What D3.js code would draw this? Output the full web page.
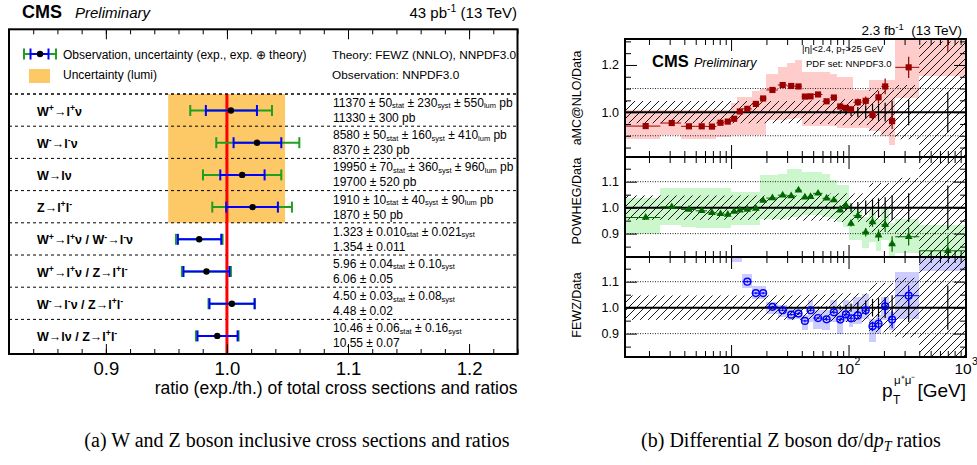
<!DOCTYPE html>
<html>
<head>
<meta charset="utf-8">
<script src="https://cdnjs.cloudflare.com/ajax/libs/d3/7.8.5/d3.min.js"></script>
<style>
  body { margin: 0; background: #fff; }
  text { font-family: "Liberation Sans", Arial, Helvetica, sans-serif; white-space: pre; }
</style>
</head>
<body>
<svg id="chart" width="977" height="465"></svg>
<script>
// ---------- (a) inclusive cross sections ----------
const channelLabels = [
  "W^{+}→l^{+}ν", "W^{-}→l^{-}ν", "W→lν", "Z→l^{+}l^{-}",
  "W^{+}→l^{+}ν / W^{-}→l^{-}ν", "W^{+}→l^{+}ν / Z→l^{+}l^{-}",
  "W^{-}→l^{-}ν / Z→l^{+}l^{-}", "W→lν / Z→l^{+}l^{-}"
];
const ratioVals = [1.0033, 1.0248, 1.0126, 1.0212, 0.9771, 0.9831, 1.0041, 0.9920];
const expLo = [0.9826, 1.0055, 0.9945, 0.9994, 0.9595, 0.9641, 0.9856, 0.9757];
const expHi = [1.0248, 1.0449, 1.0311, 1.0421, 0.9953, 1.0021, 1.0228, 1.0088];
const totLo = [0.9697, 0.9912, 0.9802, 0.9879, 0.9579, 0.9628, 0.9848, 0.9744];
const totHi = [1.0372, 1.0598, 1.0449, 1.0537, 0.9964, 1.0033, 1.0231, 1.0096];
const lumiBand = [0.9515, 1.048];
const lumiRows = 4;
const measText = [
  "11370 ± 50_{stat} ± 230_{syst} ± 550_{lum} pb",
  "8580 ± 50_{stat} ± 160_{syst} ± 410_{lum} pb",
  "19950 ± 70_{stat} ± 360_{syst} ± 960_{lum} pb",
  "1910 ± 10_{stat} ± 40_{syst} ± 90_{lum} pb",
  "1.323 ± 0.010_{stat} ± 0.021_{syst}",
  "5.96 ± 0.04_{stat} ± 0.10_{syst}",
  "4.50 ± 0.03_{stat} ± 0.08_{syst}",
  "10.46 ± 0.06_{stat} ± 0.16_{syst}"
];
const theoText = ["11330 ± 300 pb", "8370 ± 230 pb", "19700 ± 520 pb", "1870 ± 50 pb",
  "1.354 ± 0.011", "6.06 ± 0.05", "4.48 ± 0.02", "10.55 ± 0.07"];
const ratioTicks = [0.9, 1.0, 1.1, 1.2];

// ---------- (b) differential pT ratios ----------
const ptEdges = [1.25, 2.5, 3.75, 5, 6.25, 7.5, 8.75, 10, 11.25, 12.5, 15, 17.5, 20, 25, 30, 35,
  40, 45, 50, 60, 70, 80, 90, 100, 110, 130, 150, 170, 190, 220, 250, 400, 1000];
const amcVals = [0.941, 0.954, 0.940, 0.940, 0.939, 0.955, 0.960, 0.972, 1.003, 1.014, 1.035, 1.058,
  1.094, 1.115, 1.111, 1.109, 1.066, 1.067, 1.075, 1.046, 1.062, 1.024, 1.018, 1.012, 1.042, 1.048,
  0.988, 1.063, 1.109, 0.962, 1.190, 1.350];
const amcLo = [0.885, 0.905, 0.885, 0.885, 0.885, 0.895, 0.895, 0.905, 0.905, 0.905, 0.905, 0.905,
  0.968, 0.968, 0.972, 0.976, 0.940, 0.940, 0.940, 0.940, 0.940, 0.935, 0.935, 0.935, 0.935, 0.935,
  0.920, 0.920, 0.900, 0.860, 1.060, 1.155];
const amcHi = [1.011, 1.011, 1.011, 1.011, 1.011, 1.011, 1.011, 1.040, 1.065, 1.065, 1.090, 1.100,
  1.160, 1.190, 1.210, 1.220, 1.170, 1.170, 1.170, 1.170, 1.160, 1.150, 1.150, 1.150, 1.095, 1.095,
  1.137, 1.137, 1.137, 1.137, 1.310, 1.400];
const powhegVals = [0.962, 1.003, 0.993, 0.988, 0.980, 0.976, 0.974, 0.985, 0.990, 0.993, 0.997, 1.027,
  1.037, 1.048, 1.045, 1.067, 1.040, 1.042, 1.055, 1.036, 1.029, 0.990, 1.008, 0.939, 0.969, 0.905,
  0.945, 0.894, 0.934, 0.860, 0.888, 0.834];
const powhegLo = [0.900, 0.933, 0.926, 0.920, 0.920, 0.920, 0.920, 0.933, 0.933, 0.933, 0.933, 0.958,
  0.958, 0.958, 0.965, 0.965, 0.971, 0.971, 0.971, 0.965, 0.958, 0.946, 0.926, 0.875, 0.875, 0.843,
  0.869, 0.834, 0.875, 0.810, 0.824, 0.780];
const powhegHi = [1.036, 1.077, 1.074, 1.074, 1.074, 1.074, 1.074, 1.060, 1.060, 1.060, 1.060, 1.125,
  1.125, 1.131, 1.147, 1.147, 1.138, 1.138, 1.138, 1.131, 1.106, 1.087, 1.087, 1.016, 1.003, 0.965,
  0.990, 0.958, 1.000, 0.939, 0.958, 0.935];
const fewzVals = [null, null, null, null, null, null, null, 1.26, 1.24, 1.100, 1.056, 1.056, 1.003,
  0.990, 0.973, 0.977, 0.949, 0.990, 0.960, 0.955, 0.982, 0.954, 0.974, 0.959, 0.970, 0.990, 0.928,
  0.938, 1.005, 0.954, 1.046, null];
const fewzLo = [null, null, null, null, null, null, null, 1.175, 1.175, 1.077, 1.035, 1.035, 0.977,
  0.964, 0.951, 0.958, 0.913, 0.945, 0.919, 0.913, 0.945, 0.900, 0.945, 0.926, 0.938, 0.958, 0.868,
  0.900, 0.951, 0.913, 0.958, 1.140];
const fewzHi = [null, null, null, null, null, null, null, 1.350, 1.350, 1.128, 1.082, 1.082, 1.022,
  1.009, 0.996, 1.003, 0.971, 1.028, 0.990, 0.990, 1.028, 0.996, 1.028, 1.015, 1.041, 1.054, 0.958,
  0.970, 1.041, 0.983, 1.137, 1.400];
const dataErr = [0.002, 0.002, 0.002, 0.002, 0.002, 0.002, 0.002, 0.002, 0.002, 0.002, 0.002, 0.002,
  0.002, 0.002, 0.003, 0.003, 0.003, 0.003, 0.004, 0.005, 0.006, 0.008, 0.010, 0.016, 0.022, 0.028,
  0.034, 0.036, 0.040, 0.048, 0.055, 0.085];
const statErr = [0.004, 0.004, 0.004, 0.004, 0.004, 0.004, 0.004, 0.004, 0.004, 0.004, 0.004, 0.004,
  0.004, 0.004, 0.004, 0.005, 0.005, 0.005, 0.005, 0.006, 0.007, 0.008, 0.010, 0.012, 0.015, 0.018,
  0.020, 0.025, 0.030, 0.035, 0.038, 0.070];
const hatchErr = [0.047, 0.047, 0.047, 0.047, 0.047, 0.047, 0.047, 0.047, 0.047, 0.047, 0.047, 0.047,
  0.047, 0.047, 0.047, 0.047, 0.050, 0.050, 0.050, 0.050, 0.055, 0.055, 0.055, 0.055, 0.055, 0.055,
  0.095, 0.095, 0.095, 0.095, 0.115, 0.300];
const ptMinor = [2, 3, 4, 5, 6, 7, 8, 9, 20, 30, 40, 50, 60, 70, 80, 90, 200, 300, 400, 500, 600, 700, 800, 900];
const ptMajor = [10, 100, 1000];

const svg = d3.select("#chart");
const SERIF = "'Liberation Serif', 'Times New Roman', serif";

// text with ^{sup} and _{sub} pieces
function rich(sel, str, fs, scale, subOff) {
  scale = scale || 0.7;
  subOff = subOff === undefined ? 0.22 : subOff;
  const parts = str.split(/(\^\{[^}]*\}|_\{[^}]*\})/).filter(s => s.length);
  let cur = 0;
  parts.forEach(p => {
    let txt = p, off = 0, size = fs;
    if (p.startsWith("^{")) { txt = p.slice(2, -1); off = -0.38 * fs; size = scale * fs; }
    else if (p.startsWith("_{")) { txt = p.slice(2, -1); off = subOff * fs; size = scale * fs; }
    sel.append("tspan").attr("dy", off - cur).attr("font-size", size).text(txt);
    cur = off;
  });
  return sel;
}

function styleAxis(g, size) {
  g.select(".domain").remove();
  g.attr("font-family", null).attr("font-size", size);
  g.selectAll(".tick line").attr("stroke", "#000");
  g.selectAll(".tick text").attr("fill", "#000");
}

const defs = svg.append("defs");
const pat = defs.append("pattern").attr("id", "hatch")
  .attr("patternUnits", "userSpaceOnUse").attr("width", 8).attr("height", 8);
pat.append("path").attr("d", "M-2,2 L2,-2 M0,8 L8,0 M6,10 L10,6")
  .attr("stroke", "#000").attr("stroke-width", 0.9);

// ================= left figure =================
const left = { x0: 9, x1: 517.5, top: 29.3, bottom: 354 };
const xL = d3.scaleLinear().domain([0.82, 1.24]).range([left.x0, left.x1]);
const rowY = d3.scaleBand().domain(d3.range(channelLabels.length)).range([94, 351.6]);
const L = svg.append("g");

L.append("rect")
  .attr("x", xL(lumiBand[0])).attr("width", xL(lumiBand[1]) - xL(lumiBand[0]))
  .attr("y", rowY(0)).attr("height", rowY.bandwidth() * lumiRows)
  .attr("fill", "#fdc866");

rowY.domain().forEach(i => {
  L.append("line").attr("x1", left.x0).attr("x2", left.x1)
    .attr("y1", rowY(i)).attr("y2", rowY(i))
    .attr("stroke", "#000").attr("stroke-width", 1).attr("stroke-dasharray", "3,3");
});

L.append("line").attr("x1", xL(1)).attr("x2", xL(1))
  .attr("y1", rowY(0)).attr("y2", left.bottom)
  .attr("stroke", "#ff0000").attr("stroke-width", 3);

function errBar(g, x1, x2, y, color, cap) {
  g.append("line").attr("x1", x1).attr("x2", x2).attr("y1", y).attr("y2", y)
    .attr("stroke", color).attr("stroke-width", 2);
  [x1, x2].forEach(x => g.append("line").attr("x1", x).attr("x2", x)
    .attr("y1", y - cap).attr("y2", y + cap).attr("stroke", color).attr("stroke-width", 2));
}

ratioVals.forEach((v, i) => {
  const cy = rowY(i) + 16.5;
  errBar(L, xL(totLo[i]), xL(totHi[i]), cy, "#1f9e1f", 5.5);
  errBar(L, xL(expLo[i]), xL(expHi[i]), cy, "#0000ff", 5.5);
  L.append("circle").attr("cx", xL(v)).attr("cy", cy).attr("r", 3.2).attr("fill", "#000");

  rich(L.append("text").attr("x", 37).attr("y", cy + 5).attr("font-weight", "bold")
    .attr("font-size", 12.5), channelLabels[i], 12.5);
  rich(L.append("text").attr("x", 333).attr("y", rowY(i) + 13).attr("font-size", 12),
    measText[i], 12, 0.62, 0.12);
  L.append("text").attr("x", 333).attr("y", rowY(i) + 28).attr("font-size", 12).text(theoText[i]);
});

// legend
errBar(L, 24, 56, 54, "#1f9e1f", 5.5);
errBar(L, 30.5, 48.5, 54, "#0000ff", 5.5);
L.append("circle").attr("cx", 40).attr("cy", 54).attr("r", 3.2).attr("fill", "#000");
L.append("rect").attr("x", 29).attr("y", 69).attr("width", 21).attr("height", 14).attr("fill", "#fdc866");
L.append("text").attr("x", 63).attr("y", 58.5).attr("font-size", 12)
  .text("Observation, uncertainty (exp., exp. ⊕ theory)");
L.append("text").attr("x", 63).attr("y", 78.5).attr("font-size", 12).text("Uncertainty (lumi)");
L.append("text").attr("x", 332).attr("y", 58.5).attr("font-size", 11.8).text("Theory: FEWZ (NNLO), NNPDF3.0");
L.append("text").attr("x", 332).attr("y", 78.5).attr("font-size", 11.8).text("Observation: NNPDF3.0");
L.append("line").attr("x1", left.x0).attr("x2", left.x1).attr("y1", 94).attr("y2", 94)
  .attr("stroke", "#000").attr("stroke-dasharray", "3,3");

// axes of left figure
const minorL = d3.range(0.82, 1.2401, 0.02);
L.append("g").attr("transform", `translate(0,${left.bottom})`)
  .call(d3.axisBottom(xL).tickValues(minorL).tickSize(-5).tickFormat(""))
  .call(g => styleAxis(g, 10));
L.append("g").attr("transform", `translate(0,${left.bottom})`)
  .call(d3.axisBottom(xL).tickValues(ratioTicks).tickSize(-10).tickPadding(8).tickFormat(d3.format(".1f")))
  .call(g => styleAxis(g, 18.5));
L.append("g").attr("transform", `translate(0,${left.top})`)
  .call(d3.axisTop(xL).tickValues(minorL).tickSize(-5).tickFormat(""))
  .call(g => styleAxis(g, 10));
L.append("g").attr("transform", `translate(0,${left.top})`)
  .call(d3.axisTop(xL).tickValues(ratioTicks).tickSize(-10).tickFormat(""))
  .call(g => styleAxis(g, 10));
L.append("rect").attr("x", left.x0).attr("y", left.top)
  .attr("width", left.x1 - left.x0).attr("height", left.bottom - left.top)
  .attr("fill", "none").attr("stroke", "#000").attr("stroke-width", 2);

L.append("text").attr("x", left.x1).attr("y", 394).attr("text-anchor", "end").attr("font-size", 17.5)
  .text("ratio (exp./th.) of total cross sections and ratios");
L.append("text").attr("x", 22).attr("y", 17.5).attr("font-size", 18).attr("font-weight", "bold").text("CMS");
L.append("text").attr("x", 75).attr("y", 17.5).attr("font-size", 15).attr("font-style", "italic").text("Preliminary");
rich(L.append("text").attr("x", 517).attr("y", 17.5).attr("text-anchor", "end").attr("font-size", 15),
  "43 pb^{-1} (13 TeV)", 15);

// ================= right figure =================
const xR = d3.scaleLog().domain([1.25, 1000]).range([625, 966]);
const bins = d3.range(ptEdges.length - 1).map(i => ({
  i, lo: ptEdges[i], hi: ptEdges[i + 1], c: (ptEdges[i] + ptEdges[i + 1]) / 2
}));

const panels = [
  { top: 39, bottom: 157, dom: [0.81, 1.31], vals: amcVals, lo: amcLo, hi: amcHi,
    color: "#9b0000", band: "#ffcccc", marker: "square", title: "aMC@NLO/Data", titleY: 98,
    major: [1.0, 1.2], minor: [0.85, 0.9, 0.95, 1.05, 1.1, 1.15, 1.25, 1.3] },
  { top: 157, bottom: 257, dom: [0.81, 1.195], vals: powhegVals, lo: powhegLo, hi: powhegHi,
    color: "#006600", band: "#ccf7cc", marker: "triangle", title: "POWHEG/Data", titleY: 201,
    major: [0.9, 1.0, 1.1], minor: [0.85, 0.95, 1.05, 1.15] },
  { top: 257, bottom: 357, dom: [0.81, 1.195], vals: fewzVals, lo: fewzLo, hi: fewzHi,
    color: "#0000ff", band: "#ccccff", marker: "circle", title: "FEWZ/Data", titleY: 305,
    major: [0.9, 1.0, 1.1], minor: [0.85, 0.95, 1.05, 1.15] }
];

panels.forEach((p, k) => {
  const y = d3.scaleLinear().domain(p.dom).range([p.bottom, p.top]);
  const G = svg.append("g");
  defs.append("clipPath").attr("id", "clip" + k).append("rect")
    .attr("x", 625).attr("y", p.top).attr("width", 341).attr("height", p.bottom - p.top);
  const C = G.append("g").attr("clip-path", `url(#clip${k})`);

  // theory band
  C.selectAll("rect.band").data(bins.filter(b => p.lo[b.i] !== null)).enter().append("rect")
    .attr("x", b => xR(b.lo)).attr("width", b => xR(b.hi) - xR(b.lo))
    .attr("y", b => y(p.hi[b.i])).attr("height", b => y(p.lo[b.i]) - y(p.hi[b.i]))
    .attr("fill", p.band).attr("shape-rendering", "crispEdges");

  // data uncertainty (hatched)
  C.selectAll("rect.hatch").data(bins).enter().append("rect")
    .attr("x", b => xR(b.lo)).attr("width", b => xR(b.hi) - xR(b.lo))
    .attr("y", b => y(1 + hatchErr[b.i])).attr("height", b => y(1 - hatchErr[b.i]) - y(1 + hatchErr[b.i]))
    .attr("fill", "url(#hatch)");

  [0.9, 1.1].forEach(v => C.append("line").attr("x1", 625).attr("x2", 966)
    .attr("y1", y(v)).attr("y2", y(v)).attr("stroke", "#222").attr("stroke-width", 1)
    .attr("stroke-dasharray", "1,1.5"));
  C.append("line").attr("x1", 625).attr("x2", 966).attr("y1", y(1)).attr("y2", y(1))
    .attr("stroke", "#000").attr("stroke-width", 2);

  // data stat. errors around 1
  C.selectAll("line.derr").data(bins).enter().append("line")
    .attr("x1", b => xR(b.c)).attr("x2", b => xR(b.c))
    .attr("y1", b => y(1 - dataErr[b.i])).attr("y2", b => y(1 + dataErr[b.i]))
    .attr("stroke", "#000").attr("stroke-width", 1.2);

  const pts = bins.filter(b => p.vals[b.i] !== null);
  C.selectAll("line.h").data(pts).enter().append("line")
    .attr("x1", b => xR(b.lo)).attr("x2", b => xR(b.hi))
    .attr("y1", b => y(p.vals[b.i])).attr("y2", b => y(p.vals[b.i]))
    .attr("stroke", p.color).attr("stroke-width", 1);
  C.selectAll("line.v").data(pts).enter().append("line")
    .attr("x1", b => xR(b.c)).attr("x2", b => xR(b.c))
    .attr("y1", b => y(p.vals[b.i] * (1 - statErr[b.i]))).attr("y2", b => y(p.vals[b.i] * (1 + statErr[b.i])))
    .attr("stroke", p.color).attr("stroke-width", 1.2);

  if (p.marker === "circle") {
    C.selectAll("circle.m").data(pts).enter().append("circle")
      .attr("cx", b => xR(b.c)).attr("cy", b => y(p.vals[b.i])).attr("r", 3.4)
      .attr("fill", "none").attr("stroke", p.color).attr("stroke-width", 1.4);
  } else {
    const sym = d3.symbol().type(p.marker === "square" ? d3.symbolSquare : d3.symbolTriangle)
      .size(p.marker === "square" ? 38 : 26);
    C.selectAll("path.m").data(pts).enter().append("path")
      .attr("transform", b => `translate(${xR(b.c)},${y(p.vals[b.i])})`)
      .attr("d", sym).attr("fill", p.color);
  }

  // frame and ticks
  G.append("rect").attr("x", 625).attr("y", p.top).attr("width", 341).attr("height", p.bottom - p.top)
    .attr("fill", "none").attr("stroke", "#000").attr("stroke-width", 2);
  [[d3.axisBottom, p.bottom], [d3.axisTop, p.top]].forEach(([ax, pos]) => {
    G.append("g").attr("transform", `translate(0,${pos})`)
      .call(ax(xR).tickValues(ptMinor).tickSize(-6).tickFormat("")).call(g => styleAxis(g, 10));
    G.append("g").attr("transform", `translate(0,${pos})`)
      .call(ax(xR).tickValues(ptMajor).tickSize(-12).tickFormat("")).call(g => styleAxis(g, 10));
  });
  G.append("g").attr("transform", "translate(625,0)")
    .call(d3.axisLeft(y).tickValues(p.minor).tickSize(-6).tickFormat("")).call(g => styleAxis(g, 10));
  G.append("g").attr("transform", "translate(625,0)")
    .call(d3.axisLeft(y).tickValues(p.major).tickSize(-12).tickPadding(6).tickFormat(d3.format(".1f")))
    .call(g => styleAxis(g, 12.5));
  G.append("g").attr("transform", "translate(966,0)")
    .call(d3.axisRight(y).tickValues(p.minor).tickSize(-6).tickFormat("")).call(g => styleAxis(g, 10));
  G.append("g").attr("transform", "translate(966,0)")
    .call(d3.axisRight(y).tickValues(p.major).tickSize(-12).tickFormat("")).call(g => styleAxis(g, 10));

  G.append("text").attr("transform", `translate(581,${p.titleY}) rotate(-90)`)
    .attr("text-anchor", "middle").attr("font-size", 12.5).text(p.title);
});

// x tick labels (log)
[["10", null], ["10", "2"], ["10", "3"]].forEach(([base, ex], j) => {
  const x = xR(ptMajor[j]);
  svg.append("text").attr("x", ex ? x - 3 : x).attr("y", 373.5).attr("text-anchor", "middle")
    .attr("font-size", 15.5).text(base);
  if (ex) svg.append("text").attr("x", x + 6).attr("y", 365).attr("font-size", 10.5).text(ex);
});

// x title
svg.append("text").attr("x", 882).attr("y", 397).attr("font-size", 19).text("p");
svg.append("text").attr("x", 893).attr("y", 404).attr("font-size", 12).text("T");
svg.append("text").attr("x", 894).attr("y", 384).attr("font-size", 11.5).text("μ⁺μ⁻");
svg.append("text").attr("x", 966).attr("y", 397).attr("text-anchor", "end").attr("font-size", 19).text("[GeV]");

// labels on right figure
rich(svg.append("text").attr("x", 962).attr("y", 35).attr("text-anchor", "end").attr("font-size", 13.5),
  "2.3 fb^{-1}  (13 TeV)", 13.5);
svg.append("text").attr("x", 652).attr("y", 66.5).attr("font-size", 16.5).attr("font-weight", "bold").text("CMS");
svg.append("text").attr("x", 694).attr("y", 66.5).attr("font-size", 12.5).attr("font-style", "italic").text("Preliminary");
rich(svg.append("text").attr("x", 802).attr("y", 51.5).attr("font-size", 9.5), "|η|<2.4, p_{T}>25 GeV", 9.5);
svg.append("text").attr("x", 806).attr("y", 66.5).attr("font-size", 9.5).text("PDF set: NNPDF3.0");

// captions
svg.append("text").attr("x", 297).attr("y", 447).attr("text-anchor", "middle")
  .style("font-family", SERIF).attr("font-size", 20)
  .text("(a) W and Z boson inclusive cross sections and ratios");
const capB = svg.append("text").attr("x", 791).attr("y", 447).attr("text-anchor", "middle")
  .style("font-family", SERIF).attr("font-size", 20);
capB.append("tspan").text("(b) Differential Z boson dσ/d");
capB.append("tspan").attr("font-style", "italic").text("p");
capB.append("tspan").attr("font-style", "italic").attr("font-size", 14).attr("dy", 4).text("T");
capB.append("tspan").attr("dy", -4).text(" ratios");
</script>
</body>
</html>
